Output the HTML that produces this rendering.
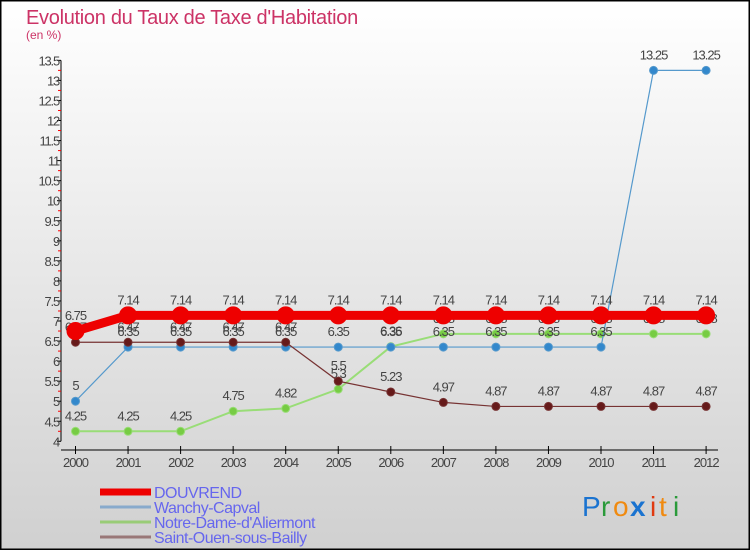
<!DOCTYPE html>
<html><head><meta charset="utf-8"><style>
body{margin:0;}
#wrap{width:750px;height:550px;position:relative;overflow:hidden;}
svg{display:block;font-family:"Liberation Sans",sans-serif;}
</style></head><body>
<div id="wrap">
<svg id="chart" width="750" height="550">
<defs><linearGradient id="bg" x1="0" y1="0" x2="0" y2="1"><stop offset="0" stop-color="#ffffff"/><stop offset="1" stop-color="#d0d0d0"/></linearGradient></defs>
<rect x="0.5" y="0.5" width="749" height="549" fill="url(#bg)" stroke="#000" stroke-width="2"/>
<text x="26" y="24" font-size="20" fill="#cc3366" letter-spacing="-0.3">Evolution du Taux de Taxe d'Habitation</text>
<text x="26" y="39" font-size="12" fill="#cc3366">(en %)</text>
<g id="axes"></g><g id="series"></g><g id="legend"></g>
<g font-size="28" font-family="'Liberation Sans',sans-serif">
<text x="582" y="516" fill="#1a73d0">P</text><text x="601" y="516" fill="#2a9a3a">r</text><text x="613" y="516" fill="#f08a10">o</text><text x="630" y="516" fill="#1a73d0" font-weight="bold">x</text><text x="650" y="516" fill="#e03a10">i</text><text x="659" y="516" fill="#f08a10">t</text><text x="673" y="516" fill="#2a9a3a">i</text>
</g>
</svg></div>
<script>
const years=[2000,2001,2002,2003,2004,2005,2006,2007,2008,2009,2010,2011,2012];
const yTicks=[4,4.5,5,5.5,6,6.5,7,7.5,8,8.5,9,9.5,10,10.5,11,11.5,12,12.5,13,13.5];
const douvrend=[6.75,7.14,7.14,7.14,7.14,7.14,7.14,7.14,7.14,7.14,7.14,7.14,7.14];
const wanchy=[5,6.35,6.35,6.35,6.35,6.35,6.35,6.35,6.35,6.35,6.35,13.25,13.25];
const notreDame=[4.25,4.25,4.25,4.75,4.82,5.3,6.36,6.68,6.68,6.68,6.68,6.68,6.68];
const saintOuen=[6.47,6.47,6.47,6.47,6.47,5.5,5.23,4.97,4.87,4.87,4.87,4.87,4.87];
const seriesNames=["DOUVREND","Wanchy-Capval","Notre-Dame-d'Aliermont","Saint-Ouen-sous-Bailly"];
const NS="http://www.w3.org/2000/svg";
const x=i=>75.5+i*52.55;
const y=v=>441.3-(v-4)*40.1;
function mk(tag,attrs,parent,txt){const e=document.createElementNS(NS,tag);for(const k in attrs)e.setAttribute(k,attrs[k]);if(txt!==undefined)e.textContent=txt;parent.appendChild(e);return e;}
const axes=document.getElementById('axes');
let a=mk('line',{x1:61,y1:y(13.5),x2:61,y2:y(4),stroke:'#000'},axes);


yTicks.forEach((t,k)=>{
 const l=mk('line',{x1:57,y1:y(t),x2:61,y2:y(t),stroke:'#000'},axes);
 
 
 if(k<yTicks.length-1){
 const m=mk('line',{x1:58,y1:y(t+0.25),x2:61,y2:y(t+0.25),stroke:'#f00'},axes);
 
 }
 const tx=mk('text',{x:59,y:y(t)+5,'font-size':13,fill:'#444','text-anchor':'end','letter-spacing':'-1.2'},axes,String(t));
 
 
});
a=mk('line',{x1:61,y1:450,x2:718,y2:450,stroke:'#000'},axes);


years.forEach((yr,i)=>{
 const l=mk('line',{x1:x(i),y1:446,x2:x(i),y2:454,stroke:'#000'},axes);
 
 
 const tx=mk('text',{x:x(i),y:467,'font-size':13,fill:'#444','text-anchor':'middle','letter-spacing':'-1'},axes,String(yr));
 
 
});
const sg=document.getElementById('series');
function draw(vals,color,w,r,name,fill){
 const g=mk('g',{},sg);
 
 
 const p=mk('polyline',{points:vals.map((v,i)=>x(i)+','+y(v)).join(' '),fill:'none',stroke:color,'stroke-width':w},g);
 
 
 vals.forEach((v,i)=>{
  const c=mk('circle',{cx:x(i),cy:y(v),r:r,fill:fill,stroke:color,'stroke-width':1},g);
  
  
  const t=mk('text',{x:x(i),y:y(v)-11,'font-size':13,fill:'#444','text-anchor':'middle','letter-spacing':'-1'},g,String(v));
  
  
 });
}
draw(notreDame,'#99dd77',2,4,'notre-dame','#77cc44');
draw(wanchy,'#5599cc',1.2,4,'wanchy','#3388cc');
draw(saintOuen,'#773333',1.2,4,'saint-ouen','#661a1a');
draw(douvrend,'#ee0000',9,8.5,'douvrend','#ee0000');
const lg=document.getElementById('legend');
const lc=['#ee0000','#88aacc','#99cc77','#997777'],lw=[7,3,3,3];
seriesNames.forEach((n,i)=>{
 const yy=492+i*15;
 const l=mk('line',{x1:100,y1:yy,x2:151,y2:yy,stroke:lc[i],'stroke-width':lw[i]},lg);
 
 
 const t=mk('text',{x:154,y:yy+6,'font-size':16,fill:'#6666ee','letter-spacing':'-0.5'},lg,n);
 
 
});
</script>
</body></html>
